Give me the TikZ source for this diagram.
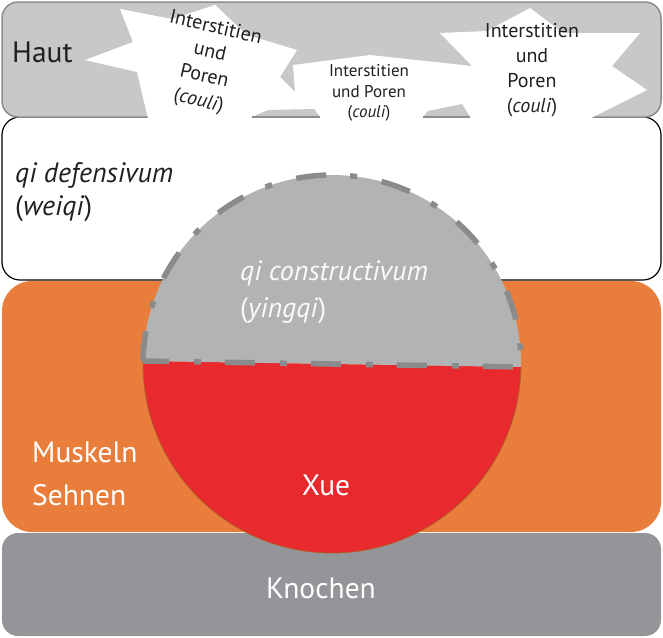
\documentclass[tikz,border=0pt]{standalone}
\usepackage{fontspec}
\setmainfont{PT Sans}
\usetikzlibrary{calc}
\definecolor{hautfill}{RGB}{199,200,201}
\definecolor{hautline}{RGB}{140,141,143}
\definecolor{orangefill}{RGB}{233,126,60}
\definecolor{bonefill}{RGB}{147,149,152}
\definecolor{redfill}{RGB}{232,41,46}
\definecolor{qifill}{RGB}{178,179,181}
\definecolor{dashgray}{RGB}{138,139,141}
\definecolor{rimbrown}{RGB}{176,96,40}
\definecolor{txt}{RGB}{35,31,32}
\definecolor{pale}{RGB}{250,250,250}
\tikzset{
  lbl/.style={inner sep=0pt, text=txt},
  wlbl/.style={inner sep=0pt, text=white},
  big/.style={font=\fontsize{29.5}{32}\selectfont},
  itbig/.style={font=\fontsize{28}{32}\selectfont},
  starA/.style={lbl, align=center, font=\fontsize{20}{25}\selectfont},
  starB/.style={lbl, align=center, font=\fontsize{17}{20.5}\selectfont},
  layer/.style={line join=round},
}
\begin{document}
\begin{tikzpicture}[x=1pt,y=-1pt]
\useasboundingbox (0,0) rectangle (663,637);
% layers
\draw[layer, fill=white, draw=black, line width=1.2pt, rounded corners=18pt] (2,117) rectangle (661,280);
\fill[orangefill, rounded corners=30pt] (2,281) rectangle (661,532);
\fill[bonefill, rounded corners=16pt] (2,533) rectangle (661,636);
\draw[layer, fill=hautfill, draw=hautline, line width=1.5pt, rounded corners=16pt] (2,2) rectangle (661,117);
% white interstitial shapes
\fill[white] (148,118.6) -- (137,72) -- (85,60) -- (133,42) -- (120,9) -- (172,19) -- (215,5)
  -- (247,35) -- (297,50) -- (280,77) -- (295,92) -- (293,65) -- (370,55) -- (472,66)
  -- (440,33) -- (487,31) -- (530,8) -- (563,33) -- (640,33) -- (612,66) -- (647,90)
  -- (590,118.6) -- cycle;
\fill[hautfill] (252,117) -- (268,110) -- (314,109) -- (320,117) -- cycle;
\fill[hautfill] (423,117) -- (428,111) -- (462,104) -- (470,117) -- cycle;
\draw[hautline, line width=1.5pt] (252,117) -- (320,117);
\draw[hautline, line width=1.5pt] (423,117) -- (470,117);
% circle
\coordinate (c) at (332,364);
\coordinate (L) at ($(c)+(180.9:189)$);
\coordinate (R) at ($(c)+(0.9:189)$);
\fill[redfill] (R) arc[start angle=0.9, end angle=180.9, radius=189] -- cycle;
\fill[qifill] (L) arc[start angle=180.9, end angle=360.9, radius=189] -- cycle;
\draw[rimbrown, line width=0.8pt] (R) arc[start angle=0.9, end angle=180.9, radius=189];
\draw[dashgray, line width=5.5pt, dash pattern=on 30pt off 24pt on 7pt off 25pt]
  (L) arc[start angle=180.9, end angle=360.9, radius=189] -- cycle;
% texts
\node[lbl, big, anchor=west] (haut) at (12,52) {Haut};
\node[starA, rotate=-13] (p1) at (207,65) {Interstitien\\und\\Poren\\(\textit{couli})};
\node[starB] (p2) at (369,93) {Interstitien\\und Poren\\(\textit{couli})};
\node[starA] (p3) at (532,70) {Interstitien\\und\\Poren\\(\textit{couli})};
\node[lbl, itbig, anchor=base west] (wq1) at (15,182) {\itshape qi defensivum};
\node[lbl, itbig, anchor=base west] (wq2) at (15,215) {(\textit{weiqi})};
\node[inner sep=0pt, text=pale, itbig, anchor=base west] (yq1) at (240,280) {\itshape qi constructivum};
\node[inner sep=0pt, text=pale, itbig, anchor=base west] (yq2) at (240,317) {(\textit{yingqi})};
\node[wlbl, big, anchor=base west] (mu) at (32,462) {Muskeln};
\node[wlbl, big, anchor=base west] (se) at (32,505) {Sehnen};
\node[wlbl, big] (xue) at (326,485) {Xue};
\node[wlbl, big] (kn) at (321,588) {Knochen};
\end{tikzpicture}
\end{document}
